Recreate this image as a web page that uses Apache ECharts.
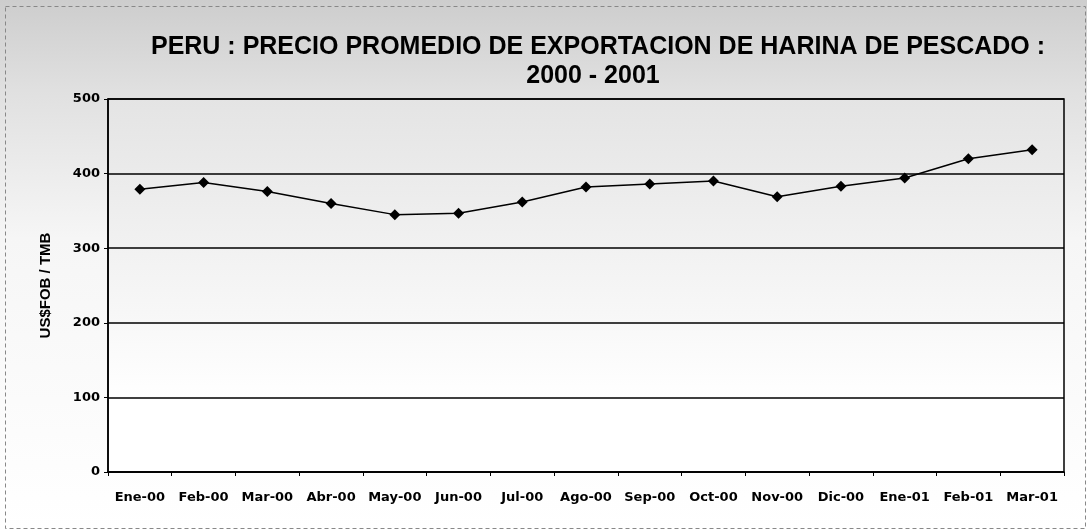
<!DOCTYPE html>
<html>
<head>
<meta charset="utf-8">
<script src="https://cdn.jsdelivr.net/npm/echarts@6/dist/echarts.min.js"></script>
<style>
html,body{margin:0;padding:0;background:#fff;}
#c{width:1087px;height:530px;}
</style>
</head>
<body>
<div id="c"></div>
<script>
const categories = ['Ene-00','Feb-00','Mar-00','Abr-00','May-00','Jun-00','Jul-00','Ago-00','Sep-00','Oct-00','Nov-00','Dic-00','Ene-01','Feb-01','Mar-01'];
const precios = [379, 388, 376, 360, 345, 347, 362, 382, 386, 390, 369, 383, 394, 420, 432];
const yTicks = [0, 100, 200, 300, 400, 500];
const titleLines = ['PERU : PRECIO PROMEDIO DE EXPORTACION DE HARINA DE PESCADO :', '2000 - 2001'];
const yAxisName = 'US$FOB / TMB';

const titleFont = {fontFamily: 'Liberation Sans, Arial', fontWeight: 'bold', fontSize: 25, fill: '#000'};

const chart = echarts.init(document.getElementById('c'), null, {renderer: 'canvas'});
chart.setOption({
  animation: false,
  backgroundColor: new echarts.graphic.LinearGradient(0, 0, 0, 1, [
    {offset: 0, color: '#cdcdcd'},
    {offset: 0.17, color: '#e0e0e0'},
    {offset: 0.45, color: '#f6f6f6'},
    {offset: 1, color: '#ffffff'}
  ]),
  graphic: [
    {
      type: 'rect', left: 3, top: 4,
      shape: {width: 1080, height: 522},
      style: {fill: 'none', stroke: '#888', lineWidth: 1, lineDash: [4, 3]},
      silent: true
    },
    {
      type: 'text', x: 598, y: 47,
      style: Object.assign({text: titleLines[0], textAlign: 'center', textVerticalAlign: 'middle'}, titleFont),
      silent: true
    },
    {
      type: 'text', x: 593, y: 76,
      style: Object.assign({text: titleLines[1], textAlign: 'center', textVerticalAlign: 'middle'}, titleFont),
      silent: true
    }
  ],
  grid: {
    left: 108, right: 23, top: 99, bottom: 58,
    show: true, borderColor: '#000', borderWidth: 1.5,
    backgroundColor: new echarts.graphic.LinearGradient(0, 0, 0, 1, [
      {offset: 0, color: '#e4e4e4'},
      {offset: 0.3, color: '#eeeeee'},
      {offset: 0.6, color: '#f8f8f8'},
      {offset: 0.8, color: '#ffffff'},
      {offset: 1, color: '#ffffff'}
    ])
  },
  xAxis: {
    type: 'category',
    data: categories,
    boundaryGap: true,
    axisLine: {show: true, lineStyle: {color: '#000', width: 1.5}},
    axisTick: {show: true, alignWithLabel: false, length: 4, lineStyle: {color: '#000'}},
    axisLabel: {
      interval: 0, margin: 19, color: '#000',
      fontFamily: 'DejaVu Sans', fontWeight: 'bold', fontSize: 13
    },
    splitLine: {show: false}
  },
  yAxis: {
    type: 'value',
    min: yTicks[0], max: yTicks[yTicks.length - 1], interval: 100,
    name: yAxisName,
    nameLocation: 'middle', nameGap: 55, nameRotate: 90,
    nameTextStyle: {fontFamily: 'Liberation Sans, Arial', fontWeight: 'bold', fontSize: 15, color: '#000'},
    axisLine: {show: true, lineStyle: {color: '#000', width: 1.5}},
    axisTick: {show: true, length: 4, inside: false, lineStyle: {color: '#000'}},
    axisLabel: {
      margin: 8, color: '#000',
      fontFamily: 'DejaVu Sans', fontWeight: 'bold', fontSize: 13
    },
    splitLine: {show: true, lineStyle: {color: '#000', width: 1.5}}
  },
  series: [{
    type: 'line',
    data: precios,
    symbol: 'diamond',
    symbolSize: 11,
    itemStyle: {color: '#000'},
    lineStyle: {color: '#000', width: 1.5},
    z: 5
  }]
});
</script>
</body>
</html>
